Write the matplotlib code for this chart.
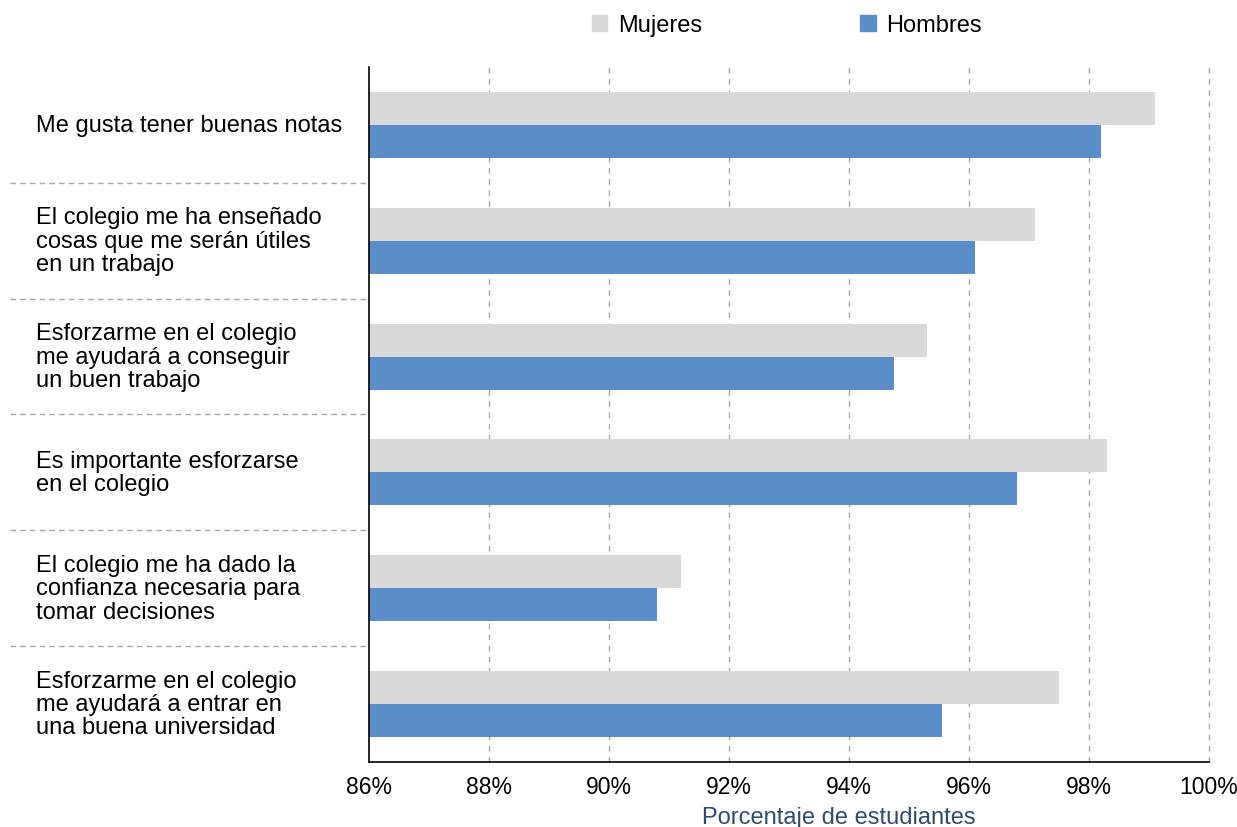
import matplotlib.pyplot as plt
from matplotlib.patches import Patch
from matplotlib.ticker import FuncFormatter

plt.rcParams['font.family'] = ['Liberation Sans', 'DejaVu Sans']

# Datos
categorias = [
    "Me gusta tener buenas notas",
    "El colegio me ha enseñado\ncosas que me serán útiles\nen un trabajo",
    "Esforzarme en el colegio\nme ayudará a conseguir\nun buen trabajo",
    "Es importante esforzarse\nen el colegio",
    "El colegio me ha dado la\nconfianza necesaria para\ntomar decisiones",
    "Esforzarme en el colegio\nme ayudará a entrar en\nuna buena universidad",
]
mujeres = [99.1, 97.1, 95.3, 98.3, 91.2, 97.5]
hombres = [98.2, 96.1, 94.75, 96.8, 90.8, 95.55]
ticks = [86, 88, 90, 92, 94, 96, 98, 100]

col_muj = '#D9D9D9'
col_hom = '#5B8DC9'

fig = plt.figure(figsize=(12.37, 8.28), dpi=100)
ax = fig.add_axes([0.2983, 0.0785, 0.6791, 0.8394])

h = 0.285
pos = list(range(len(categorias)))
ax.barh([p - h / 2 for p in pos], [m - 86 for m in mujeres], left=86, height=h, color=col_muj, zorder=2)
ax.barh([p + h / 2 for p in pos], [v - 86 for v in hombres], left=86, height=h, color=col_hom, zorder=2)

ax.set_xlim(86, 100)
ax.set_ylim(len(categorias) - 0.5, -0.5)
ax.set_xticks(ticks)
ax.xaxis.set_major_formatter(FuncFormatter(lambda v, _: f"{v:.0f}%"))
ax.tick_params(axis='x', labelsize=16.5, length=0, pad=9)
ax.set_yticks([])

for t in ticks[1:]:
    ax.axvline(t, color='#A6A6A6', linestyle=(0, (4, 4)), linewidth=1, zorder=1, clip_on=False)

for s in ['top', 'right']:
    ax.spines[s].set_visible(False)
ax.spines['left'].set_linewidth(1.2)
ax.spines['bottom'].set_linewidth(1.2)

# etiquetas de categorías y separadores
for i, txt in enumerate(categorias):
    ax.text(-0.396, i, txt, transform=ax.get_yaxis_transform(), ha='left', va='center',
            fontsize=17, linespacing=1.08)
    if i < len(categorias) - 1:
        ax.plot([-0.427, 0], [i + 0.5, i + 0.5], transform=ax.get_yaxis_transform(),
                color='#A6A6A6', linestyle=(0, (4, 3)), linewidth=1, clip_on=False)

fig.text(839 / 1237, 1 - 818 / 828, "Porcentaje de estudiantes", ha='center', va='center',
         fontsize=17, color='#2F4B6E')

handles = [Patch(color=col_muj, label='Mujeres'), Patch(color=col_hom, label='Hombres')]
fig.legend(handles=handles, loc='center', bbox_to_anchor=(787 / 1237, 1 - 26 / 828), ncol=2,
           frameon=False, fontsize=17, handlelength=0.65, handleheight=0.65,
           handletextpad=0.45, columnspacing=6.7)

fig.savefig('out.png', dpi=100)
